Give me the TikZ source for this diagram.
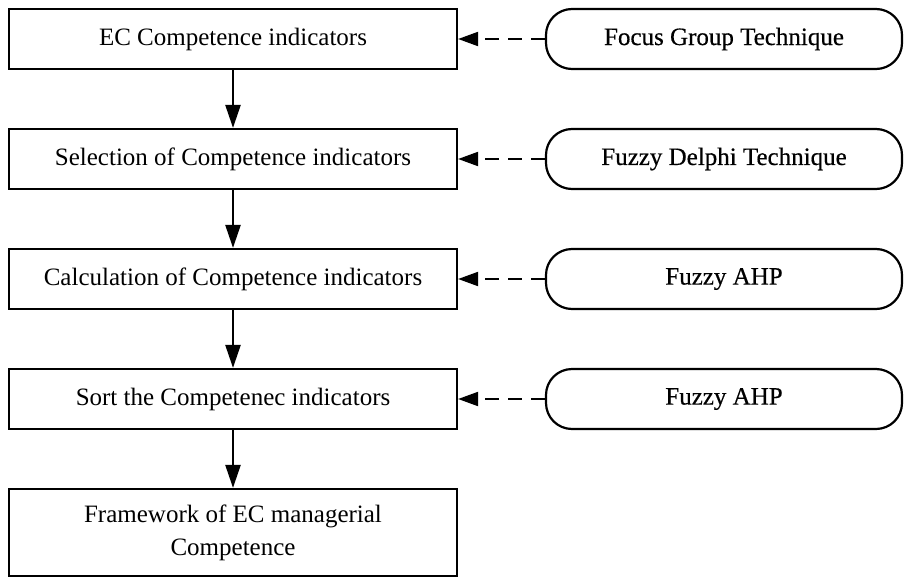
\documentclass[tikz,border=0pt]{standalone}
\usepackage{fontspec}
\setmainfont{Liberation Serif}
\newfontfamily\rightfont[FakeBold=0.45]{Liberation Serif}
\usetikzlibrary{arrows.meta}
\begin{document}
\begin{tikzpicture}[x=1pt,y=-1pt,
  leftbox/.style={draw, line width=2.2pt, rectangle, minimum width=448pt, minimum height=60pt, inner sep=0pt, align=center, font=\fontsize{25}{33}\selectfont},
  rightbox/.style={draw, line width=2.2pt, rectangle, rounded corners=26pt, minimum width=356pt, minimum height=60pt, inner sep=0pt, align=center, font=\rightfont\fontsize{25}{28}\selectfont},
  flow/.style={line width=2.4pt, -{Triangle[length=23pt,width=15pt]}},
  feed/.style={line width=2pt, dash pattern=on 14pt off 9pt, -{Triangle[length=20pt,width=14pt]}}
]
\useasboundingbox (0,0) rectangle (904,578);
\node[leftbox] (l1) at (233,39) {EC Competence indicators};
\node[leftbox] (l2) at (233,159) {Selection of Competence indicators};
\node[leftbox] (l3) at (233,279) {Calculation of Competence indicators};
\node[leftbox] (l4) at (233,399) {Sort the Competenec indicators};
\node[leftbox, minimum height=87pt] (l5) at (233,532.5) {Framework of EC managerial\\Competence};
\node[rightbox] (r1) at (724,39) {Focus Group Technique};
\node[rightbox] (r2) at (724,159) {Fuzzy Delphi Technique};
\node[rightbox] (r3) at (724,279) {Fuzzy AHP};
\node[rightbox] (r4) at (724,399) {Fuzzy AHP};
\draw[flow] (l1) -- (l2);
\draw[flow] (l2) -- (l3);
\draw[flow] (l3) -- (l4);
\draw[flow] (l4) -- (l5);
\draw[feed] (r1) -- (l1);
\draw[feed] (r2) -- (l2);
\draw[feed] (r3) -- (l3);
\draw[feed] (r4) -- (l4);
\end{tikzpicture}
\end{document}
